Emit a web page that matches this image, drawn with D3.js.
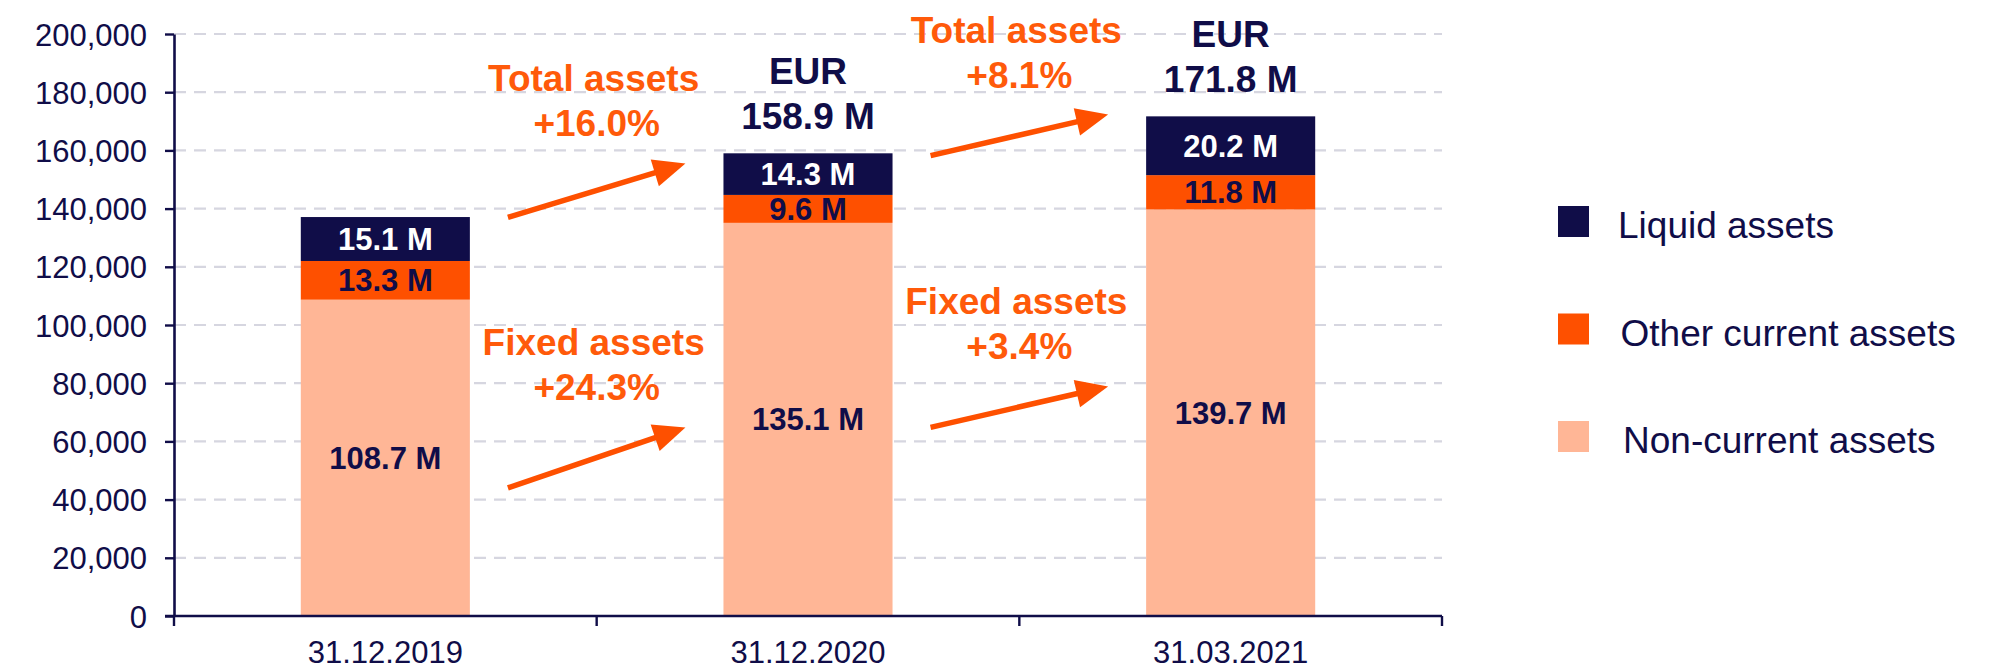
<!DOCTYPE html>
<html>
<head>
<meta charset="utf-8">
<script src="https://cdn.jsdelivr.net/npm/d3@7"></script>
<style>
  html, body { margin: 0; padding: 0; background: #fff; }
  svg { display: block; font-family: "Liberation Sans", Arial, sans-serif; }
</style>
</head>
<body>
<div id="chart"></div>
<script>
// Data (EUR thousands)
const categories = ['31.12.2019', '31.12.2020', '31.03.2021'];
const nonCurrentAssets = [108700, 135100, 139700];
const otherCurrentAssets = [13300, 9600, 11800];
const liquidAssets = [15100, 14300, 20200];
const totalLabels = ['', '158.9 M', '171.8 M'];
const yTicks = [0, 20000, 40000, 60000, 80000, 100000, 120000, 140000, 160000, 180000, 200000];

const seriesKeys = ['nonCurrent', 'other', 'liquid'];
const seriesNames = { liquid: 'Liquid assets', other: 'Other current assets', nonCurrent: 'Non-current assets' };
const legendOrder = ['liquid', 'other', 'nonCurrent'];

// Change annotations between consecutive dates
const totalChanges = ['+16.0%', '+8.1%'];
const fixedChanges = ['+24.3%', '+3.4%'];
// arrow anchors in axis units
const totalArrowFrom = [137000, 158200];
const totalArrowTo = [155500, 172300];
const fixedArrowFrom = [44000, 64800];
const fixedArrowTo = [64800, 78900];

// Style
const NAVY = '#100d48';
const ORANGE = '#fe5000';
const PEACH = '#ffb696';
const ANNOT = '#ff5a0a';
const colors = { liquid: NAVY, other: ORANGE, nonCurrent: PEACH };
const labelColors = { liquid: '#ffffff', other: NAVY, nonCurrent: NAVY };

const width = 2006, height = 671;
const plot = { left: 174, right: 1442, top: 34, bottom: 616 };

const svg = d3.select('#chart').append('svg')
    .attr('width', width)
    .attr('height', height);

const x = d3.scaleBand()
    .domain(categories)
    .range([plot.left, plot.right])
    .padding(0);

const y = d3.scaleLinear()
    .domain([0, 200000])
    .range([plot.bottom, plot.top]);

const barW = x.bandwidth() * 0.4;
const cx = c => x(c) + x.bandwidth() / 2;

// Gridlines
svg.append('g')
    .selectAll('line')
    .data(yTicks.filter(d => d > 0))
    .join('line')
    .attr('x1', plot.left)
    .attr('x2', plot.right)
    .attr('y1', d => y(d))
    .attr('y2', d => y(d))
    .attr('stroke', '#d6d6e0')
    .attr('stroke-width', 2.2)
    .attr('stroke-dasharray', '12,8');

// Stacked bars
const rows = categories.map((c, i) => ({
    cat: c,
    nonCurrent: nonCurrentAssets[i],
    other: otherCurrentAssets[i],
    liquid: liquidAssets[i]
}));
const series = d3.stack().keys(seriesKeys)(rows);

const groups = svg.append('g')
    .selectAll('g')
    .data(series)
    .join('g')
    .attr('fill', d => colors[d.key]);

groups.selectAll('rect')
    .data(d => d)
    .join('rect')
    .attr('x', d => cx(d.data.cat) - barW / 2)
    .attr('width', barW)
    .attr('y', d => y(d[1]))
    .attr('height', d => y(d[0]) - y(d[1]));

// Segment labels
series.forEach(s => {
    svg.append('g')
        .selectAll('text')
        .data(s)
        .join('text')
        .attr('x', d => cx(d.data.cat))
        .attr('y', d => (y(d[0]) + y(d[1])) / 2 + 11)
        .attr('text-anchor', 'middle')
        .attr('font-size', 31)
        .attr('font-weight', 'bold')
        .attr('fill', labelColors[s.key])
        .text(d => (d.data[s.key] / 1000).toFixed(1) + ' M');
});

// Totals above bars
const topSeries = series[series.length - 1];
topSeries.forEach((d, i) => {
    if (!totalLabels[i]) return;
    const t = svg.append('text')
        .attr('text-anchor', 'middle')
        .attr('font-size', 37)
        .attr('font-weight', 'bold')
        .attr('fill', NAVY);
    t.append('tspan').attr('x', cx(d.data.cat)).attr('y', y(d[1]) - 69).text('EUR');
    t.append('tspan').attr('x', cx(d.data.cat)).attr('y', y(d[1]) - 24).text(totalLabels[i]);
});

// Y axis
const yAxis = svg.append('g')
    .attr('transform', `translate(${plot.left},0)`)
    .call(d3.axisLeft(y)
        .tickValues(yTicks)
        .tickSize(9)
        .tickSizeOuter(0)
        .tickPadding(18)
        .tickFormat(d3.format(',')));
yAxis.select('.domain').attr('stroke', NAVY).attr('stroke-width', 2.6);
yAxis.selectAll('.tick line').attr('stroke', NAVY).attr('stroke-width', 2.4);
yAxis.selectAll('.tick text')
    .attr('fill', NAVY)
    .attr('font-size', 31)
    .attr('font-family', '"Liberation Sans", Arial, sans-serif')
    .attr('dy', '0.36em');

// X axis
const xAxis = svg.append('g');
xAxis.append('line')
    .attr('x1', plot.left - 9)
    .attr('x2', plot.right)
    .attr('y1', plot.bottom)
    .attr('y2', plot.bottom)
    .attr('stroke', NAVY)
    .attr('stroke-width', 2.6);
xAxis.selectAll('.xtick')
    .data(categories.map(c => x(c)).concat([plot.right]))
    .join('line')
    .attr('class', 'xtick')
    .attr('x1', d => d)
    .attr('x2', d => d)
    .attr('y1', plot.bottom)
    .attr('y2', plot.bottom + 10)
    .attr('stroke', NAVY)
    .attr('stroke-width', 2.4);
xAxis.selectAll('.xlabel')
    .data(categories)
    .join('text')
    .attr('class', 'xlabel')
    .attr('x', d => cx(d))
    .attr('y', plot.bottom + 47)
    .attr('text-anchor', 'middle')
    .attr('font-size', 31)
    .attr('fill', NAVY)
    .text(d => d);

// Arrows with change annotations
function drawArrow(x1, y1, x2, y2) {
    const ang = Math.atan2(y2 - y1, x2 - x1);
    const headLen = 32, headHalf = 14;
    const bx = x2 - headLen * Math.cos(ang), by = y2 - headLen * Math.sin(ang);
    svg.append('line')
        .attr('x1', x1).attr('y1', y1)
        .attr('x2', bx + 4 * Math.cos(ang)).attr('y2', by + 4 * Math.sin(ang))
        .attr('stroke', ORANGE)
        .attr('stroke-width', 5.5);
    const px = -Math.sin(ang), py = Math.cos(ang);
    svg.append('path')
        .attr('d', `M${x2},${y2}L${bx + px * headHalf},${by + py * headHalf}L${bx - px * headHalf},${by - py * headHalf}Z`)
        .attr('fill', ORANGE);
}

function annotate(label, change, fromVal, toVal, i) {
    const off = x.bandwidth() * 0.29;
    const x1 = cx(categories[i]) + off;
    const x2 = cx(categories[i + 1]) - off;
    const y2 = y(toVal);
    drawArrow(x1, y(fromVal), x2, y2);
    const mid = x(categories[i + 1]);
    const t = svg.append('text')
        .attr('text-anchor', 'middle')
        .attr('font-size', 37)
        .attr('font-weight', 'bold')
        .attr('fill', ANNOT);
    t.append('tspan').attr('x', mid - 3).attr('y', y2 - 72).text(label);
    t.append('tspan').attr('x', mid).attr('y', y2 - 27).text(change);
}

totalChanges.forEach((c, i) => annotate('Total assets', c, totalArrowFrom[i], totalArrowTo[i], i));
fixedChanges.forEach((c, i) => annotate('Fixed assets', c, fixedArrowFrom[i], fixedArrowTo[i], i));

// Legend
const legend = svg.append('g')
    .attr('transform', 'translate(1558,206)');
const items = legend.selectAll('g')
    .data(legendOrder)
    .join('g')
    .attr('transform', (d, i) => `translate(0,${i * 107.5})`);
items.append('rect')
    .attr('width', 31)
    .attr('height', 31)
    .attr('fill', d => colors[d]);
items.append('text')
    .attr('x', (d, i) => 60 + i * 2.5)
    .attr('y', 32)
    .attr('font-size', 37)
    .attr('fill', NAVY)
    .text(d => seriesNames[d]);
</script>
</body>
</html>
